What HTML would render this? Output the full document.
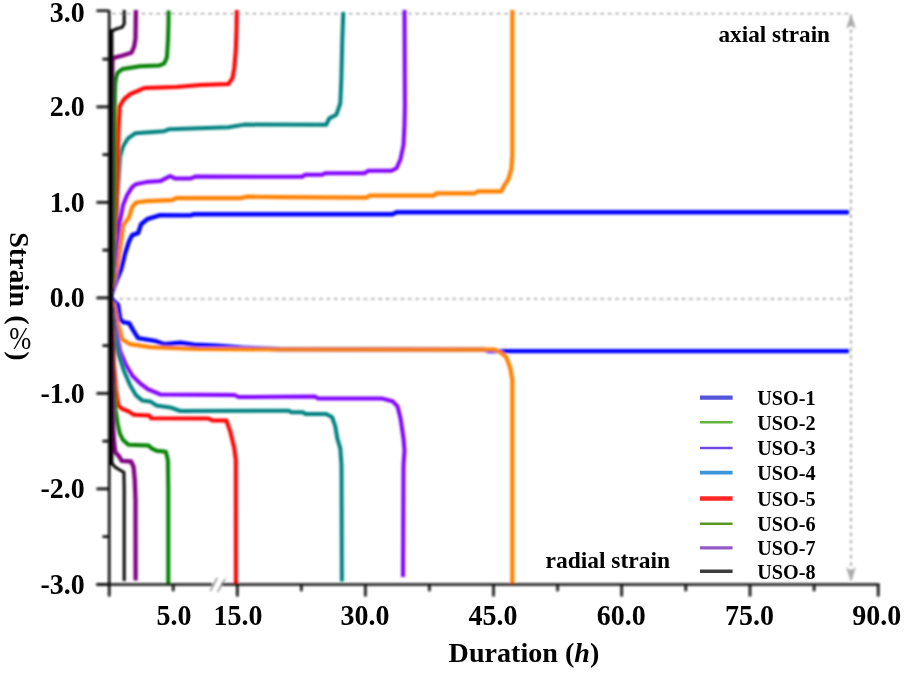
<!DOCTYPE html>
<html><head><meta charset="utf-8"><title>Strain - Duration</title>
<style>
html,body{margin:0;padding:0;background:#fff;}
body{width:905px;height:673px;overflow:hidden;position:relative;font-family:"Liberation Serif","Noto Serif CJK SC",serif;}
svg{position:absolute;left:0;top:0;display:block;}
text{font-family:"Liberation Serif","Noto Serif CJK SC",serif;font-weight:bold;fill:#000;}
.tk{font-size:28px;}
.lg{font-size:21px;}
.an{font-size:22.3px;}
.cv{fill:none;stroke-linejoin:round;stroke-linecap:butt;}
.gd{fill:none;stroke:#8c8c8c;stroke-width:1.4;stroke-dasharray:3.6 3.8;}
.ax{fill:none;stroke:#0a0a0a;stroke-width:2.6;}
</style></head><body>
<svg width="905" height="673" viewBox="0 0 905 673">
<rect width="905" height="673" fill="#fff"/>
<g filter="url(#bl)">
<defs><filter id="bl" x="-2%" y="-2%" width="104%" height="104%"><feGaussianBlur stdDeviation="0.95"/></filter><filter id="bt" x="-2%" y="-2%" width="104%" height="104%"><feGaussianBlur stdDeviation="0.6"/></filter></defs>

<path class="gd" d="M112 13.6 H851 V579"/>
<path class="gd" d="M112 298.9 H851"/>
<path d="M851 15 L846.8 28 L851 25 L855.2 28 Z" fill="#aaa" stroke="#999" stroke-width="0.6"/>
<path d="M851 581 L846.8 568 L851 571 L855.2 568 Z" fill="#aaa" stroke="#999" stroke-width="0.6"/>
<path class="cv" stroke="#0000ff" stroke-width="4.4" d="M110.2 297.9 L111.0 295.4 L116.1 281.4 L121.1 269.4 L125.1 253.3 L129.1 241.3 L132.1 235.2 L138.1 233.2 L141.1 224.2 L147.2 219.2 L160.2 215.2 L190.3 215.4 L194.3 214.2 L392.5 214.2 L396.5 212.3 L849.0 212.3"/>
<path class="cv" stroke="#0000ff" stroke-width="4.4" d="M110.2 297.9 L112.0 299.0 L118.1 305.1 L120.1 319.1 L123.1 322.1 L129.1 323.1 L133.1 330.2 L138.1 338.2 L156.2 341.2 L164.2 344.2 L180.3 342.8 L194.3 344.8 L216.4 345.6 L242.5 347.8 L280.0 349.2 L484.0 349.6 L489.0 351.1 L849.0 351.1"/>
<path class="cv" stroke="#ff8000" stroke-width="4.2" d="M110.2 297.9 L112.5 288.0 L115.1 277.4 L118.1 261.3 L121.1 241.3 L123.1 225.2 L129.1 217.2 L132.1 207.1 L136.1 202.5 L146.2 201.1 L172.2 200.1 L176.3 198.1 L240.5 198.1 L246.5 196.7 L280.0 197.2 L366.4 197.7 L369.4 195.7 L434.0 195.7 L436.1 193.3 L474.2 193.3 L478.2 191.3 L501.3 191.3 L504.3 185.3 L508.3 179.3 L511.3 169.2 L512.3 155.2 L512.3 10.0"/>
<path class="cv" stroke="#ff8000" stroke-width="4.2" d="M110.2 297.9 L114.0 305.1 L117.1 321.1 L120.1 331.2 L122.1 339.2 L130.1 344.2 L150.2 347.2 L196.3 348.8 L280.0 349.5 L494.3 349.7 L500.3 352.1 L506.3 357.1 L510.3 368.2 L512.3 380.2 L512.3 584.0"/>
<path class="cv" stroke="#8000ff" stroke-width="4.0" d="M110.2 297.9 L113.0 280.0 L116.0 250.0 L119.1 225.2 L123.1 205.1 L127.1 195.1 L132.1 187.1 L136.1 184.1 L146.2 182.1 L160.2 181.1 L170.2 176.0 L175.3 178.6 L190.3 178.6 L195.3 176.6 L302.1 176.8 L305.2 174.8 L322.2 174.8 L325.2 173.2 L364.4 173.2 L368.4 170.8 L391.4 170.8 L396.5 168.2 L400.5 159.2 L403.5 145.1 L404.5 125.1 L404.9 105.0 L404.5 10.0"/>
<path class="cv" stroke="#8000ff" stroke-width="4.0" d="M110.2 297.9 L113.0 310.0 L115.1 325.1 L120.1 351.2 L126.1 365.3 L132.1 375.3 L140.1 383.3 L148.2 389.4 L160.2 394.4 L234.5 395.0 L238.5 397.0 L315.2 396.6 L318.2 398.6 L382.4 398.6 L392.5 401.2 L397.5 406.3 L400.5 418.3 L403.5 438.4 L404.5 450.4 L403.5 465.0 L403.0 577.0"/>
<path class="cv" stroke="#008080" stroke-width="4.0" d="M110.2 297.9 L113.0 270.0 L116.0 220.0 L118.5 180.0 L120.1 156.3 L123.1 146.3 L128.1 138.3 L135.1 133.3 L164.2 131.2 L169.2 129.2 L228.4 127.2 L244.5 124.6 L326.2 124.8 L329.2 118.4 L336.3 114.8 L340.3 103.4 L341.3 80.3 L342.3 40.1 L343.3 12.0"/>
<path class="cv" stroke="#008080" stroke-width="4.0" d="M110.2 297.9 L112.5 310.0 L114.0 325.1 L118.1 353.2 L124.1 371.3 L130.1 385.3 L136.1 395.4 L142.1 400.4 L150.2 401.4 L156.2 405.4 L170.2 407.4 L180.3 411.0 L289.1 410.7 L291.1 412.3 L303.1 412.3 L305.2 413.9 L326.2 413.9 L332.2 417.3 L335.3 426.3 L337.3 438.4 L340.3 448.4 L341.5 465.0 L341.9 581.5"/>
<path class="cv" stroke="#ff0000" stroke-width="4.0" d="M110.2 297.9 L113.0 270.0 L115.5 230.0 L117.1 192.5 L117.7 160.3 L118.5 130.2 L119.7 106.2 L124.1 99.1 L130.1 94.1 L144.2 88.1 L176.3 87.1 L200.3 85.1 L228.4 84.1 L232.5 78.1 L234.3 68.0 L235.8 50.0 L236.5 30.0 L236.8 10.0"/>
<path class="cv" stroke="#ff0000" stroke-width="4.0" d="M110.2 297.9 L112.2 320.0 L114.0 365.3 L116.1 390.0 L118.4 405.3 L121.7 408.7 L128.4 411.4 L133.8 414.7 L149.2 415.4 L151.2 418.3 L208.4 418.5 L212.4 420.5 L226.4 420.5 L230.4 432.1 L234.3 448.2 L235.8 460.2 L235.9 584.0"/>
<path class="cv" stroke="#008000" stroke-width="4.0" d="M110.2 297.9 L112.6 280.0 L114.2 230.0 L114.8 170.0 L114.8 95.0 L115.2 84.0 L116.0 78.0 L117.4 72.9 L122.7 68.9 L140.1 66.2 L158.9 65.6 L164.2 63.5 L166.9 57.5 L168.0 40.1 L168.5 24.0 L168.6 10.5"/>
<path class="cv" stroke="#008000" stroke-width="4.0" d="M110.2 297.9 L112.0 330.0 L113.5 380.0 L115.1 400.0 L115.7 410.7 L117.7 424.1 L119.7 433.4 L123.1 440.1 L128.4 444.8 L148.5 445.5 L151.2 448.1 L156.5 450.8 L165.9 451.8 L167.9 460.2 L168.3 490.0 L168.3 584.0"/>
<path class="cv" stroke="#800080" stroke-width="4.3" d="M110.2 297.9 L111.8 250.0 L112.0 100.0 L112.4 59.5 L114.5 57.6 L122.7 55.5 L131.4 52.8 L134.1 46.8 L135.5 38.8 L135.9 10.0"/>
<path class="cv" stroke="#800080" stroke-width="4.3" d="M110.2 297.9 L112.0 340.0 L112.6 400.0 L113.2 426.7 L113.9 440.1 L115.3 452.2 L119.0 456.2 L121.7 460.8 L131.1 461.5 L133.6 466.9 L134.8 480.2 L135.5 500.0 L135.6 580.5"/>
<path class="cv" stroke="#000000" stroke-width="3.0" d="M111.5 31.0 L116.7 28.8 L122.0 27.4 L124.2 24.0 L124.2 10.0"/>
<path class="cv" stroke="#000000" stroke-width="3.0" d="M111.5 462.9 L115.0 466.9 L119.0 469.5 L123.9 472.2 L124.2 490.0 L124.2 581.0"/>
<path class="cv" stroke="#000" stroke-width="5.4" d="M110.7 29.5 L110.7 465.0"/>
<path class="ax" d="M109.2 10.3 V585.4"/>
<path class="ax" d="M96.5 584.5 H212.3 M221.3 584.5 H879.5"/>
<path class="ax" d="M96.5 584.4 H109.2 M102.5 536.6 H109.2 M96.5 488.9 H109.2 M102.5 441.1 H109.2 M96.5 393.4 H109.2 M102.5 345.6 H109.2 M96.5 297.9 H109.2 M102.5 250.1 H109.2 M96.5 202.4 H109.2 M102.5 154.6 H109.2 M96.5 106.9 H109.2 M102.5 59.1 H109.2 M96.5 10.8 H109.2 "/>
<path class="ax" d="M109.2 584.5 V596.6 M237.3 584.5 V596.6 M365.4 584.5 V596.6 M493.5 584.5 V596.6 M621.7 584.5 V596.6 M750.0 584.5 V596.6 M878.2 584.5 V596.6 M173.2 584.5 V591.2 M301.3 584.5 V591.2 M429.4 584.5 V591.2 M557.6 584.5 V591.2 M685.8 584.5 V591.2 M814.1 584.5 V591.2 "/>
<path d="M210.2 591 L217.3 577.7 M217.6 592 L225.2 578.8" stroke="#777" stroke-width="1.3" fill="none"/>
</g>
<g filter="url(#bt)">
<text class="tk" transform="translate(84.7 21.8) scale(1 1.045)" text-anchor="end">3.0</text>
<text class="tk" transform="translate(84.7 116.3) scale(1 1.045)" text-anchor="end">2.0</text>
<text class="tk" transform="translate(84.7 211.8) scale(1 1.045)" text-anchor="end">1.0</text>
<text class="tk" transform="translate(84.7 307.3) scale(1 1.045)" text-anchor="end">0.0</text>
<text class="tk" transform="translate(84.7 402.8) scale(1 1.045)" text-anchor="end">-1.0</text>
<text class="tk" transform="translate(84.7 498.3) scale(1 1.045)" text-anchor="end">-2.0</text>
<text class="tk" transform="translate(84.7 593.8) scale(1 1.045)" text-anchor="end">-3.0</text>
<text class="tk" transform="translate(238.0 625.2) scale(1 1.045)" text-anchor="middle">15.0</text>
<text class="tk" transform="translate(364.9 625.2) scale(1 1.045)" text-anchor="middle">30.0</text>
<text class="tk" transform="translate(493.0 625.2) scale(1 1.045)" text-anchor="middle">45.0</text>
<text class="tk" transform="translate(621.2 625.2) scale(1 1.045)" text-anchor="middle">60.0</text>
<text class="tk" transform="translate(749.5 625.2) scale(1 1.045)" text-anchor="middle">75.0</text>
<text class="tk" transform="translate(876.7 625.2) scale(1 1.045)" text-anchor="middle">90.0</text>
<text class="tk" transform="translate(174 625.2) scale(1 1.045)" text-anchor="middle">5.0</text>
<text class="tk" x="448.6" y="662.3" style="font-size:28px" textLength="150.8" lengthAdjust="spacingAndGlyphs">Duration (<tspan font-style="italic">h</tspan>)</text>
<text class="tk" transform="translate(9.9 232.3) rotate(90)" style="font-size:28px">Strain</text>
<text class="tk" transform="translate(10.3 315.2) rotate(90)" style="font-size:28px">(</text>
<text class="tk" transform="translate(10.3 351.3) rotate(90)" style="font-size:28px">)</text>
<text x="20.3" y="348.5" text-anchor="middle" style="font-size:32px;font-weight:normal" textLength="22" lengthAdjust="spacingAndGlyphs">%</text>
<text class="an" x="718.5" y="41.8" textLength="111.5" lengthAdjust="spacingAndGlyphs">axial strain</text>
<text class="an" x="545.5" y="567.8" textLength="124.5" lengthAdjust="spacingAndGlyphs">radial strain</text>
<path d="M700 397.7 H732.6" stroke="#5555dc" stroke-width="4.2" fill="none"/>
<text class="lg" x="757.3" y="405.0" textLength="58.3" lengthAdjust="spacingAndGlyphs">USO-1</text>
<path d="M700 422.3 H732.6" stroke="#64b43c" stroke-width="2.6" fill="none"/>
<text class="lg" x="757.3" y="429.6" textLength="58.3" lengthAdjust="spacingAndGlyphs">USO-2</text>
<path d="M700 448.0 H732.6" stroke="#6e46e6" stroke-width="2.4" fill="none"/>
<text class="lg" x="757.3" y="455.3" textLength="58.3" lengthAdjust="spacingAndGlyphs">USO-3</text>
<path d="M700 472.6 H732.6" stroke="#3c96d7" stroke-width="3.8" fill="none"/>
<text class="lg" x="757.3" y="479.9" textLength="58.3" lengthAdjust="spacingAndGlyphs">USO-4</text>
<path d="M700 498.5 H732.6" stroke="#ff2828" stroke-width="4.6" fill="none"/>
<text class="lg" x="757.3" y="505.8" textLength="58.3" lengthAdjust="spacingAndGlyphs">USO-5</text>
<path d="M700 523.8 H732.6" stroke="#5a9628" stroke-width="2.6" fill="none"/>
<text class="lg" x="757.3" y="531.1" textLength="58.3" lengthAdjust="spacingAndGlyphs">USO-6</text>
<path d="M700 547.9 H732.6" stroke="#965ac8" stroke-width="3.2" fill="none"/>
<text class="lg" x="757.3" y="555.2" textLength="58.3" lengthAdjust="spacingAndGlyphs">USO-7</text>
<path d="M700 571.3 H732.6" stroke="#3c3c3c" stroke-width="3.4" fill="none"/>
<text class="lg" x="757.3" y="578.6" textLength="58.3" lengthAdjust="spacingAndGlyphs">USO-8</text>
</g></svg></body></html>
